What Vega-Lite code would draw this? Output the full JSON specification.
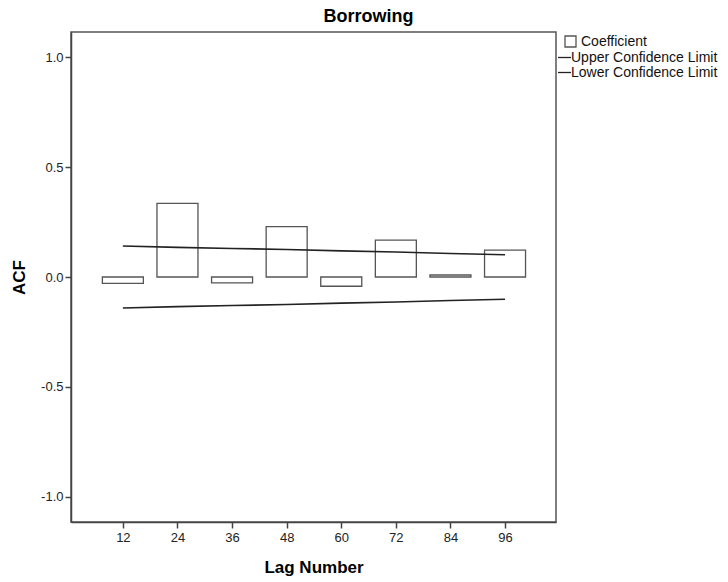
{
  "$schema": "https://vega.github.io/schema/vega-lite/v6.json",
  "autosize": "none",
  "width": 485,
  "height": 490,
  "padding": {"left": 71, "top": 32, "right": 172, "bottom": 60},
  "background": "white",
  "title": {
    "text": "Borrowing",
    "font": "Liberation Sans",
    "fontSize": 18,
    "fontWeight": "bold",
    "color": "#000000",
    "anchor": "middle",
    "frame": "group",
    "dx": 55,
    "baseline": "alphabetic",
    "offset": -8
  },
  "config": {
    "font": "Liberation Sans",
    "view": {"stroke": "#555555", "strokeWidth": 1.5},
    "axis": {
      "grid": false,
      "domainColor": "#444444",
      "domainWidth": 1.5,
      "tickColor": "#444444",
      "tickWidth": 1.5,
      "tickSize": 6,
      "labelFont": "Liberation Sans",
      "labelFontSize": 13,
      "labelColor": "#222222",
      "titleFont": "Liberation Sans",
      "titleFontSize": 17,
      "titleFontWeight": "bold",
      "titleColor": "#000000"
    },
    "legend": {
      "labelFont": "Liberation Sans",
      "labelFontSize": 14,
      "labelColor": "#111111",
      "padding": 2,
      "rowPadding": 0,
      "symbolSize": 169,
      "labelOffset": 1
    }
  },
  "datasets": {
    "acf": [
      {"lag": 12, "acf": -0.029},
      {"lag": 24, "acf": 0.335},
      {"lag": 36, "acf": -0.027},
      {"lag": 48, "acf": 0.229},
      {"lag": 60, "acf": -0.042},
      {"lag": 72, "acf": 0.168},
      {"lag": 84, "acf": 0.009},
      {"lag": 96, "acf": 0.122}
    ],
    "limits": [
      {"lag": 12, "series": "Upper Confidence Limit", "value": 0.141},
      {"lag": 24, "series": "Upper Confidence Limit", "value": 0.135},
      {"lag": 36, "series": "Upper Confidence Limit", "value": 0.130},
      {"lag": 48, "series": "Upper Confidence Limit", "value": 0.125},
      {"lag": 60, "series": "Upper Confidence Limit", "value": 0.119},
      {"lag": 72, "series": "Upper Confidence Limit", "value": 0.114},
      {"lag": 84, "series": "Upper Confidence Limit", "value": 0.107},
      {"lag": 96, "series": "Upper Confidence Limit", "value": 0.101},
      {"lag": 12, "series": "Lower Confidence Limit", "value": -0.141},
      {"lag": 24, "series": "Lower Confidence Limit", "value": -0.135},
      {"lag": 36, "series": "Lower Confidence Limit", "value": -0.130},
      {"lag": 48, "series": "Lower Confidence Limit", "value": -0.125},
      {"lag": 60, "series": "Lower Confidence Limit", "value": -0.119},
      {"lag": 72, "series": "Lower Confidence Limit", "value": -0.114},
      {"lag": 84, "series": "Lower Confidence Limit", "value": -0.107},
      {"lag": 96, "series": "Lower Confidence Limit", "value": -0.101}
    ]
  },
  "encoding": {
    "x": {
      "type": "quantitative",
      "scale": {"domain": [0.6, 107.2], "nice": false, "zero": false, "padding": 0},
      "axis": {
        "title": "Lag Number",
        "values": [12, 24, 36, 48, 60, 72, 84, 96],
        "labelPadding": 3,
        "titleBaseline": "alphabetic",
        "titleY": 50
      }
    },
    "y": {
      "type": "quantitative",
      "scale": {"domain": [-1.115, 1.115], "nice": false, "zero": false, "padding": 0},
      "axis": {
        "title": "ACF",
        "values": [-1, -0.5, 0, 0.5, 1],
        "labelExpr": "replace(format(datum.value, '.1f'), '\u2212', '-')",
        "labelPadding": 2,
        "titleBaseline": "middle",
        "titleX": -52
      }
    }
  },
  "layer": [
    {
      "data": {"name": "acf"},
      "mark": {"type": "bar", "size": 41, "fill": "white", "strokeWidth": 1.3},
      "encoding": {
        "x": {"field": "lag"},
        "y": {"field": "acf"},
        "stroke": {
          "datum": "Coefficient",
          "type": "nominal",
          "scale": {
            "domain": ["Coefficient", "Upper Confidence Limit", "Lower Confidence Limit"],
            "range": ["#555555", "#222222", "#222222"]
          },
          "legend": {
            "title": null,
            "orient": "right",
            "offset": 0,
            "encode": {
              "symbols": {
                "update": {
                  "shape": {"signal": "datum.value === 'Coefficient' ? 'square' : 'stroke'"},
                  "size": {"signal": "datum.value === 'Coefficient' ? 121 : 169"},
                  "x": {"signal": "datum.value === 'Coefficient' ? 12.5 : 6.5"},
                  "fill": {"value": "white"},
                  "strokeWidth": {"value": 1.3},
                  "opacity": {"value": 1}
                }
              },
              "labels": {
                "update": {
                  "dx": {"signal": "datum.value === 'Coefficient' ? 7 : -3"}
                }
              }
            }
          }
        }
      }
    },
    {
      "mark": {"type": "rule", "color": "#333333", "strokeWidth": 1.4},
      "encoding": {"y": {"datum": 0}}
    },
    {
      "data": {"name": "limits"},
      "mark": {"type": "line", "strokeWidth": 1.6},
      "encoding": {
        "x": {"field": "lag"},
        "y": {"field": "value"},
        "stroke": {
          "field": "series",
          "type": "nominal",
          "legend": {
            "title": null,
            "orient": "right",
            "offset": 0,
            "encode": {
              "symbols": {
                "update": {
                  "shape": {"signal": "datum.value === 'Coefficient' ? 'square' : 'stroke'"},
                  "size": {"signal": "datum.value === 'Coefficient' ? 121 : 169"},
                  "x": {"signal": "datum.value === 'Coefficient' ? 12.5 : 6.5"},
                  "fill": {"value": "white"},
                  "strokeWidth": {"value": 1.3},
                  "opacity": {"value": 1}
                }
              },
              "labels": {
                "update": {
                  "dx": {"signal": "datum.value === 'Coefficient' ? 7 : -3"}
                }
              }
            }
          }
        }
      }
    }
  ]
}
